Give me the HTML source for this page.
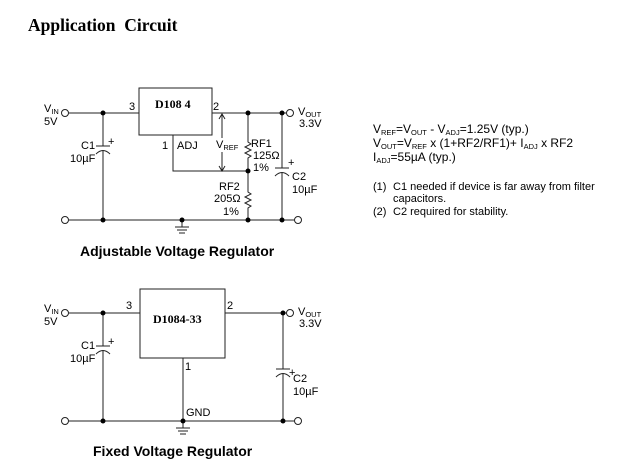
<!DOCTYPE html>
<html><head><meta charset="utf-8"><style>
html,body{margin:0;padding:0;background:#fff;}
svg{display:block;}
text{font-family:"Liberation Sans",Arial,sans-serif;fill:#000;}
.s{font-size:11px;}
.e{font-size:12px;}
.sub{font-size:7.5px;}
.t{font-family:"Liberation Serif",serif;font-weight:bold;}
</style></head><body>
<svg width="636" height="473" viewBox="0 0 636 473" xmlns="http://www.w3.org/2000/svg">
<text x="28" y="31" class="t" font-size="17.5">Application&#160; Circuit</text>

<g stroke="#222" stroke-width="1" fill="none">
<rect x="139" y="88" width="73" height="47"/>
<line x1="69" y1="113" x2="139" y2="113"/>
<line x1="212" y1="113" x2="286" y2="113"/>
<circle cx="65" cy="113" r="3.5" fill="#fff"/>
<circle cx="290" cy="113" r="3.5" fill="#fff"/>
<polyline points="173,135 173,171 248,171"/>
<line x1="103" y1="113" x2="103" y2="146"/>
<line x1="96" y1="146" x2="110" y2="146"/>
<path d="M96,154 Q103,147 110,154"/>
<line x1="103" y1="150" x2="103" y2="220"/>
<line x1="69" y1="220" x2="294" y2="220"/>
<circle cx="65" cy="220" r="3.5" fill="#fff"/>
<circle cx="298" cy="220" r="3.5" fill="#fff"/>
<line x1="182" y1="220" x2="182" y2="227"/>
<line x1="175" y1="227" x2="189" y2="227"/>
<line x1="177" y1="230" x2="187" y2="230"/>
<line x1="179" y1="233" x2="185" y2="233"/>
<polyline points="248,113 248,142 251,144 245,147 251,150 245,153 251,156 248,158 248,192 251,194 245,197 251,200 245,203 251,206 248,208 248,220"/>
<line x1="282" y1="113" x2="282" y2="168"/>
<line x1="275" y1="168" x2="289" y2="168"/>
<path d="M275,176 Q282,169 289,176"/>
<line x1="282" y1="172" x2="282" y2="220"/>
<line x1="222" y1="115" x2="222" y2="138"/>
<line x1="222" y1="152" x2="222" y2="170"/>
<polyline points="219,119 222,114 225,119"/>
<polyline points="219,166 222,171 225,166"/>

<rect x="140" y="289" width="85" height="69"/>
<line x1="69" y1="313" x2="140" y2="313"/>
<line x1="225" y1="313" x2="286" y2="313"/>
<circle cx="65" cy="313" r="3.5" fill="#fff"/>
<circle cx="290" cy="313" r="3.5" fill="#fff"/>
<line x1="103" y1="313" x2="103" y2="346"/>
<line x1="96" y1="346" x2="110" y2="346"/>
<path d="M96,354 Q103,347 110,354"/>
<line x1="103" y1="350" x2="103" y2="421"/>
<line x1="183" y1="358" x2="183" y2="421"/>
<line x1="69" y1="421" x2="294" y2="421"/>
<circle cx="65" cy="421" r="3.5" fill="#fff"/>
<circle cx="298" cy="421" r="3.5" fill="#fff"/>
<line x1="183" y1="421" x2="183" y2="428"/>
<line x1="176" y1="428" x2="190" y2="428"/>
<line x1="178" y1="431" x2="188" y2="431"/>
<line x1="180" y1="434" x2="186" y2="434"/>
<line x1="283" y1="313" x2="283" y2="369"/>
<line x1="276" y1="369" x2="290" y2="369"/>
<path d="M276,377 Q283,370 290,377"/>
<line x1="283" y1="373" x2="283" y2="421"/>
</g>

<g fill="#000">
<circle cx="103" cy="113" r="2.5"/><circle cx="248" cy="113" r="2.5"/><circle cx="282" cy="113" r="2.5"/>
<circle cx="248" cy="171" r="2.5"/>
<circle cx="103" cy="220" r="2.5"/><circle cx="182" cy="220" r="2.5"/><circle cx="248" cy="220" r="2.5"/><circle cx="282" cy="220" r="2.5"/>
<circle cx="103" cy="313" r="2.5"/><circle cx="283" cy="313" r="2.5"/>
<circle cx="103" cy="421" r="2.5"/><circle cx="183" cy="421" r="2.5"/><circle cx="283" cy="421" r="2.5"/>
</g>

<text x="44" y="112" class="s">V<tspan class="sub" dy="2">IN</tspan></text>
<text x="44" y="125" class="s">5V</text>
<text x="129" y="110" class="s">3</text>
<text x="213" y="110" class="s">2</text>
<text x="155" y="108" class="t" font-size="12">D108 4</text>
<text x="162" y="149" class="s">1</text>
<text x="177" y="149" class="s">ADJ</text>
<text x="216" y="148" class="s">V<tspan class="sub" dy="2">REF</tspan></text>
<text x="298" y="115" class="s">V<tspan class="sub" dy="2">OUT</tspan></text>
<text x="299" y="127" class="s">3.3V</text>
<text x="81" y="149" class="s">C1</text>
<text x="108" y="145" class="s" font-size="9">+</text>
<text x="70" y="162" class="s">10µF</text>
<text x="251" y="147" class="s">RF1</text>
<text x="253" y="159" class="s">125Ω</text>
<text x="253" y="171" class="s">1%</text>
<text x="288" y="166" class="s" font-size="9">+</text>
<text x="292" y="180" class="s">C2</text>
<text x="292" y="193" class="s">10µF</text>
<text x="219" y="190" class="s">RF2</text>
<text x="214" y="202" class="s">205Ω</text>
<text x="223" y="215" class="s">1%</text>
<text x="80" y="256" font-size="14" font-weight="bold">Adjustable Voltage Regulator</text>

<text x="373" y="133" class="e">V<tspan class="sub" dy="2">REF</tspan><tspan dy="-2">=V</tspan><tspan class="sub" dy="2">OUT</tspan><tspan dy="-2"> - V</tspan><tspan class="sub" dy="2">ADJ</tspan><tspan dy="-2">=1.25V (typ.)</tspan></text>
<text x="373" y="147" class="e">V<tspan class="sub" dy="2">OUT</tspan><tspan dy="-2">=V</tspan><tspan class="sub" dy="2">REF</tspan><tspan dy="-2"> x (1+RF2/RF1)+ I</tspan><tspan class="sub" dy="2">ADJ</tspan><tspan dy="-2"> x RF2</tspan></text>
<text x="373" y="161" class="e">I<tspan class="sub" dy="2">ADJ</tspan><tspan dy="-2">=55µA (typ.)</tspan></text>
<text x="373" y="190" class="s">(1)</text>
<text x="393" y="190" class="s">C1 needed if device is far away from filter</text>
<text x="393" y="202" class="s">capacitors.</text>
<text x="373" y="215" class="s">(2)</text>
<text x="393" y="215" class="s">C2 required for stability.</text>

<text x="44" y="312" class="s">V<tspan class="sub" dy="2">IN</tspan></text>
<text x="44" y="325" class="s">5V</text>
<text x="126" y="309" class="s">3</text>
<text x="227" y="309" class="s">2</text>
<text x="153" y="323" class="t" font-size="12">D1084-33</text>
<text x="185" y="370" class="s">1</text>
<text x="186" y="416" class="s">GND</text>
<text x="298" y="315" class="s">V<tspan class="sub" dy="2">OUT</tspan></text>
<text x="299" y="327" class="s">3.3V</text>
<text x="81" y="349" class="s">C1</text>
<text x="108" y="345" class="s" font-size="9">+</text>
<text x="70" y="362" class="s">10µF</text>
<text x="289" y="376" class="s" font-size="9">+</text>
<text x="293" y="382" class="s">C2</text>
<text x="293" y="395" class="s">10µF</text>
<text x="93" y="456" font-size="14" font-weight="bold">Fixed Voltage Regulator</text>
</svg>
</body></html>
